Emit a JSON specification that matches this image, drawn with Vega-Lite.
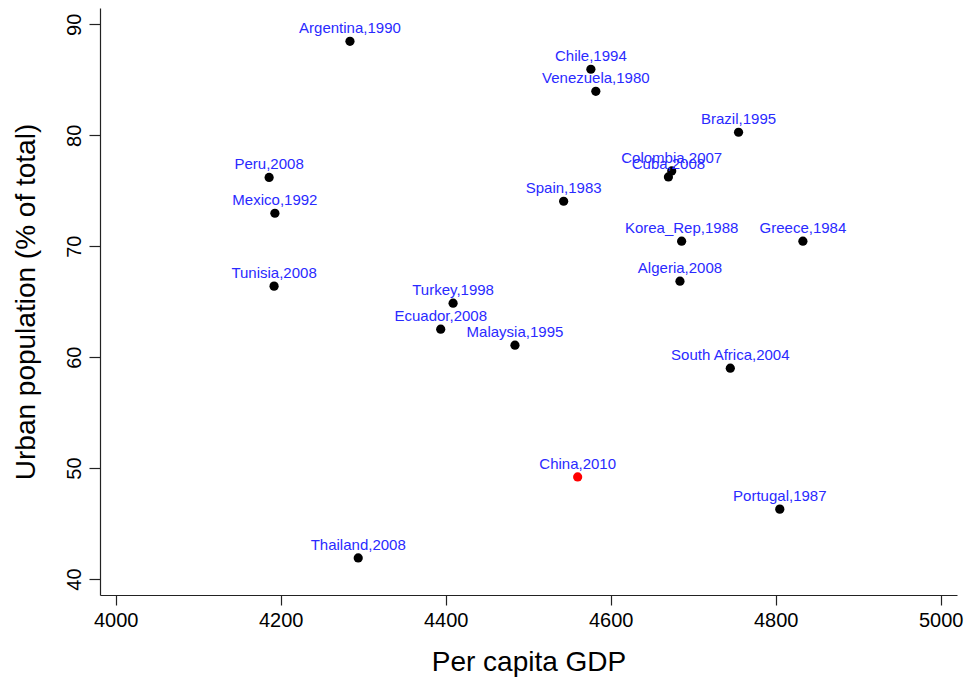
{
  "$schema": "https://vega.github.io/schema/vega-lite/v6.json",
  "width": 857,
  "height": 587,
  "autosize": {"type": "none"},
  "padding": {"left": 100, "top": 8, "right": 10, "bottom": 84},
  "background": "white",
  "config": {
    "view": {"stroke": null},
    "font": "Liberation Sans",
    "axis": {
      "grid": false,
      "domainColor": "#222222",
      "tickColor": "#222222",
      "labelColor": "#000000",
      "titleColor": "#000000",
      "labelFont": "Liberation Sans",
      "titleFont": "Liberation Sans",
      "labelFontSize": 20,
      "titleFontSize": 28,
      "titleFontWeight": "normal",
      "domainWidth": 1.2,
      "tickWidth": 1.2
    }
  },
  "data": {
    "values": [
      {"country": "Argentina,1990", "gdp": 4284, "urban": 88.47, "china": "no"},
      {"country": "Chile,1994", "gdp": 4576, "urban": 85.95, "china": "no"},
      {"country": "Venezuela,1980", "gdp": 4582, "urban": 83.96, "china": "no"},
      {"country": "Brazil,1995", "gdp": 4755, "urban": 80.27, "china": "no"},
      {"country": "Peru,2008", "gdp": 4186, "urban": 76.2, "china": "no"},
      {"country": "Colombia,2007", "gdp": 4674, "urban": 76.78, "china": "no"},
      {"country": "Cuba,2008", "gdp": 4670, "urban": 76.24, "china": "no"},
      {"country": "Spain,1983", "gdp": 4543, "urban": 74.05, "china": "no"},
      {"country": "Mexico,1992", "gdp": 4193, "urban": 72.97, "china": "no"},
      {"country": "Korea_Rep,1988", "gdp": 4686, "urban": 70.45, "china": "no"},
      {"country": "Greece,1984", "gdp": 4833, "urban": 70.45, "china": "no"},
      {"country": "Algeria,2008", "gdp": 4684, "urban": 66.85, "china": "no"},
      {"country": "Tunisia,2008", "gdp": 4192, "urban": 66.4, "china": "no"},
      {"country": "Turkey,1998", "gdp": 4409, "urban": 64.86, "china": "no"},
      {"country": "Ecuador,2008", "gdp": 4394, "urban": 62.52, "china": "no"},
      {"country": "Malaysia,1995", "gdp": 4484, "urban": 61.08, "china": "no"},
      {"country": "South Africa,2004", "gdp": 4745, "urban": 59.0, "china": "no"},
      {"country": "China,2010", "gdp": 4560, "urban": 49.2, "china": "yes"},
      {"country": "Portugal,1987", "gdp": 4805, "urban": 46.3, "china": "no"},
      {"country": "Thailand,2008", "gdp": 4294, "urban": 41.9, "china": "no"}
    ]
  },
  "encoding": {
    "x": {
      "field": "gdp",
      "type": "quantitative",
      "scale": {"domain": [3981, 5019.8], "nice": false, "zero": false},
      "axis": {
        "title": "Per capita GDP",
        "values": [4000, 4200, 4400, 4600, 4800, 5000],
        "format": "d",
        "tickSize": 10,
        "labelPadding": 5,
        "titlePadding": 18,
        "labelFlush": false
      }
    },
    "y": {
      "field": "urban",
      "type": "quantitative",
      "scale": {"domain": [38.56, 91.47], "nice": false, "zero": false},
      "axis": {
        "title": "Urban population (% of total)",
        "values": [40, 50, 60, 70, 80, 90],
        "format": "d",
        "tickSize": 11,
        "labelAngle": -90,
        "labelAlign": "center",
        "labelBaseline": "bottom",
        "labelPadding": 5,
        "titlePadding": 24,
        "labelFlush": false
      }
    }
  },
  "layer": [
    {
      "mark": {"type": "circle", "size": 85, "opacity": 1},
      "encoding": {
        "color": {
          "field": "china",
          "type": "nominal",
          "scale": {"domain": ["no", "yes"], "range": ["#000000", "#ff0000"]},
          "legend": null
        }
      }
    },
    {
      "mark": {"type": "text", "dy": -8, "baseline": "alphabetic", "align": "center", "fontSize": 15, "color": "#2a2aff", "font": "Liberation Sans"},
      "encoding": {"text": {"field": "country"}}
    }
  ]
}
